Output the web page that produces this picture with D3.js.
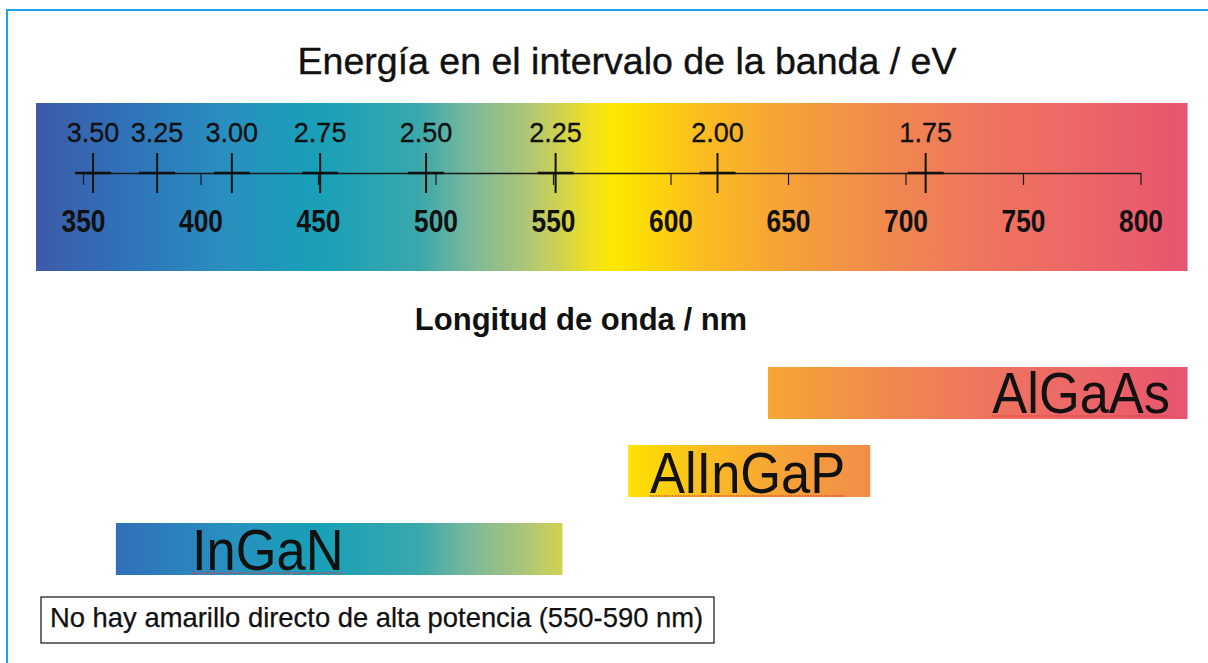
<!DOCTYPE html>
<html><head><meta charset="utf-8">
<script src="https://cdn.jsdelivr.net/npm/d3@7/dist/d3.min.js"></script>
<style>
body{margin:0;background:#fff;}
svg{display:block;font-family:"Liberation Sans",Arial,Helvetica,sans-serif;}
</style>
</head><body>
<svg id="chart" width="1208" height="663"></svg>
<script>
// ---- data ----
const wavelengthTicks = [350, 400, 450, 500, 550, 600, 650, 700, 750, 800];
const energyTicks = [3.50, 3.25, 3.00, 2.75, 2.50, 2.25, 2.00, 1.75];
const energyLabels = ["3.50", "3.25", "3.00", "2.75", "2.50", "2.25", "2.00", "1.75"];
const spectrumRange = [330, 820];
const materials = ["AlGaAs", "AlInGaP", "InGaN"];
const materialStart = [641.5, 582, 364];
const materialEnd = [820, 685, 554];
const titleText = "Energía en el intervalo de la banda / eV";
const axisText = "Longitud de onda / nm";
const noteText = "No hay amarillo directo de alta potencia (550-590 nm)";
const hcConst = 1240; // eV·nm

// ---- styles ----
const spectrumColors = [
  [330, "#3e5aa8"], [365, "#3070b8"], [412, "#2890c0"], [450, "#18a0b8"],
  [493, "#3aa8ac"], [514, "#78b89c"], [536, "#a8c47c"], [553, "#cfd250"],
  [566, "#f0e020"], [576, "#fde800"], [591, "#fdd808"], [612, "#fbbe20"],
  [651, "#f5a038"], [697, "#f08650"], [740, "#ee7260"], [782, "#eb6468"], [820, "#e8546e"]
];

const svg = d3.select("#chart");
const x = d3.scaleLinear().domain([350, 800]).range([83, 1140.5]);

// gradient (shared, in user space)
const defs = svg.append("defs");
const grad = defs.append("linearGradient").attr("id", "spec")
  .attr("gradientUnits", "userSpaceOnUse")
  .attr("x1", x(spectrumRange[0])).attr("x2", x(spectrumRange[1]))
  .attr("y1", 0).attr("y2", 0);
const span = spectrumRange[1] - spectrumRange[0];
grad.selectAll("stop").data(spectrumColors).join("stop")
  .attr("offset", d => (d[0] - spectrumRange[0]) / span)
  .attr("stop-color", d => d[1]);

// frame (top & left blue lines)
svg.append("line").attr("x1", 7).attr("x2", 1208).attr("y1", 10).attr("y2", 10)
  .attr("stroke", "#1ba4e6").attr("stroke-width", 2);
svg.append("line").attr("x1", 7).attr("x2", 7).attr("y1", 9).attr("y2", 663)
  .attr("stroke", "#1ba4e6").attr("stroke-width", 2);

// title
svg.append("text").attr("x", 627).attr("y", 74).attr("text-anchor", "middle")
  .attr("font-size", 37.5).attr("fill", "#111").attr("stroke", "#111").attr("stroke-width", 0.4)
  .text(titleText);

// spectrum band
svg.append("rect")
  .attr("x", x(spectrumRange[0])).attr("width", x(spectrumRange[1]) - x(spectrumRange[0]))
  .attr("y", 103).attr("height", 168)
  .attr("fill", "url(#spec)");

// wavelength axis
const axisG = svg.append("g").attr("transform", "translate(0,173)")
  .call(d3.axisBottom(x).tickValues(wavelengthTicks).tickSize(12).tickSizeOuter(0).tickPadding(25));
axisG.select(".domain").attr("stroke", "#1a1a1a").attr("stroke-width", 1.3);
axisG.selectAll(".tick line").attr("stroke", "#1a1a1a").attr("stroke-width", 1.2);
axisG.selectAll(".tick text")
  .attr("font-family", "'Liberation Sans',Arial,sans-serif")
  .attr("font-size", 31).attr("font-weight", "bold").attr("fill", "#111")
  .attr("transform", "scale(0.85,1)");

// energy crosses
const crosses = svg.append("g").selectAll("g").data(energyTicks).join("g")
  .attr("transform", d => `translate(${x(hcConst / d)},173)`);
crosses.append("line").attr("x1", 0).attr("x2", 0).attr("y1", -20).attr("y2", 20)
  .attr("stroke", "#111").attr("stroke-width", 2);
crosses.append("line").attr("x1", -18).attr("x2", 18).attr("y1", 0).attr("y2", 0)
  .attr("stroke", "#111").attr("stroke-width", 2.6);
crosses.append("text").attr("y", -31).attr("text-anchor", "middle")
  .attr("font-size", 27).attr("fill", "#111").attr("stroke", "#111").attr("stroke-width", 0.3)
  .text((d, i) => energyLabels[i]);

// axis title
svg.append("text").attr("x", 581).attr("y", 330).attr("text-anchor", "middle")
  .attr("font-size", 31).attr("font-weight", "bold").attr("fill", "#111")
  .text(axisText);

// material bars
const barY = d3.scaleBand().domain(materials).range([367, 575]).paddingInner(1 / 3);
const barLayer = svg.append("g");
materials.forEach((m, i) => {
  const x0 = x(materialStart[i]), x1 = x(materialEnd[i]);
  const y0 = barY(m), h = barY.bandwidth();
  barLayer.append("rect").attr("x", x0).attr("y", y0).attr("width", x1 - x0).attr("height", h)
    .attr("fill", "url(#spec)");
});
// bar labels
const labelPos = [
  {anchor: "end", tx: 1170, by: 413},
  {anchor: "start", tx: 650, by: 493},
  {anchor: "start", tx: 192, by: 570}
];
materials.forEach((m, i) => {
  const p = labelPos[i];
  const g = barLayer.append("g").attr("transform", `translate(${p.tx},${p.by}) scale(0.92,1)`);
  const t = g.append("text").attr("text-anchor", p.anchor).attr("font-size", 57)
    .attr("fill", "#111").text(m);
  const bb = t.node().getBBox();
  g.append("line").attr("x1", bb.x).attr("x2", bb.x + bb.width).attr("y1", 3).attr("y2", 3)
    .attr("stroke", "#e04040").attr("stroke-width", 1.3).attr("stroke-dasharray", "1.5,1.5");
});

// note box
svg.append("rect").attr("x", 41).attr("y", 597).attr("width", 673).attr("height", 46)
  .attr("fill", "#fff").attr("stroke", "#222").attr("stroke-width", 1.3);
svg.append("text").attr("x", 50).attr("y", 627).attr("font-size", 27.4).attr("fill", "#111")
  .attr("stroke", "#111").attr("stroke-width", 0.25)
  .text(noteText);
</script>
</body></html>
